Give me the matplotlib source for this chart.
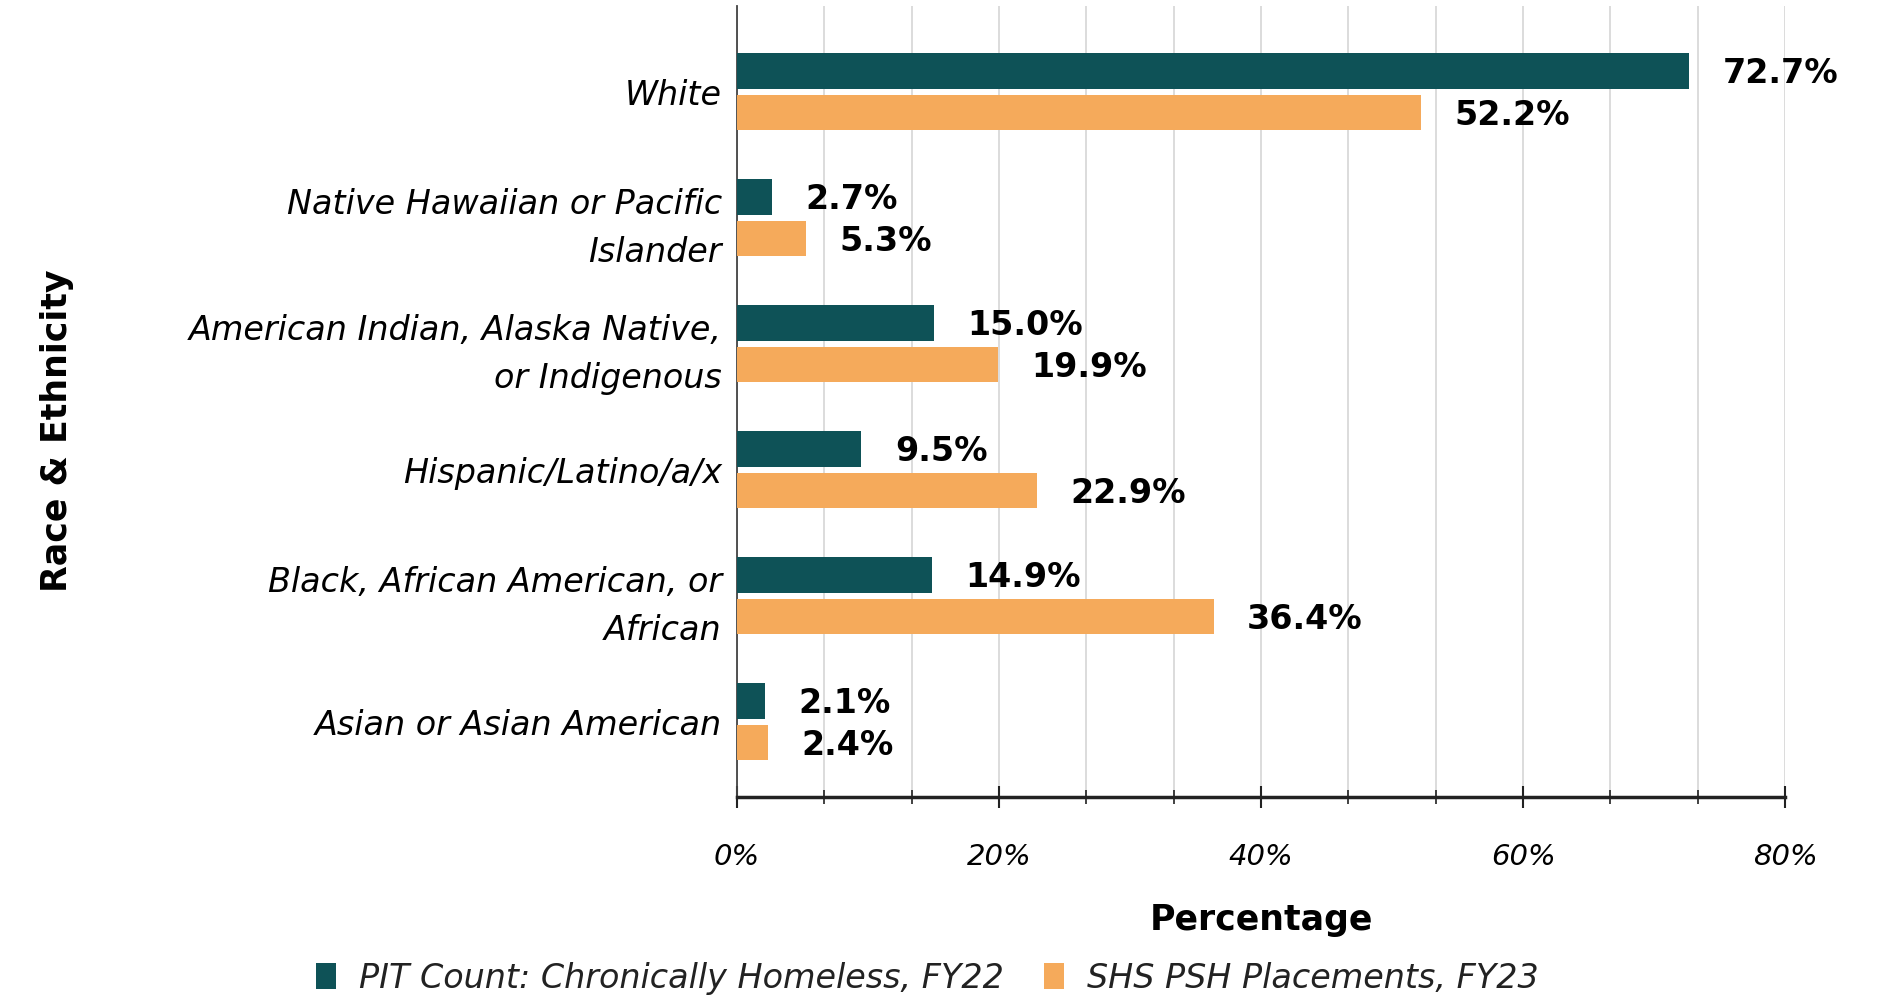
import numpy as np
import matplotlib.pyplot as plt
from matplotlib.ticker import MultipleLocator, FuncFormatter
from matplotlib.patches import Patch

# data
categories = ['White', 'Native Hawaiian or Pacific\nIslander',
              'American Indian, Alaska Native,\nor Indigenous',
              'Hispanic/Latino/a/x', 'Black, African American, or\nAfrican',
              'Asian or Asian American']
pit_fy22 = [72.7, 2.7, 15.0, 9.5, 14.9, 2.1]
psh_fy23 = [52.2, 5.3, 19.9, 22.9, 36.4, 2.4]
series_names = ['PIT Count: Chronically Homeless, FY22', 'SHS PSH Placements, FY23']

teal = '#0e5257'
orange = '#f5aa5b'

plt.rcParams['font.family'] = ['DejaVu Sans']

fig = plt.figure(figsize=(18.85, 9.98), dpi=100)
ax = fig.add_axes([0.391, 0.201, 0.556, 0.793])

y = np.arange(len(categories))
h = 0.28
gap = 0.05
off = h / 2 + gap / 2

b1 = ax.barh(y - off, pit_fy22, height=h, color=teal, zorder=3)
b2 = ax.barh(y + off, psh_fy23, height=h, color=orange, zorder=3)

for bars, vals in ((b1, pit_fy22), (b2, psh_fy23)):
    for bar, v in zip(bars, vals):
        ax.annotate('%.1f%%' % v, (v, bar.get_y() + bar.get_height() / 2),
                    xytext=(24, -2), textcoords='offset points',
                    ha='left', va='center', fontsize=24, fontweight='bold')

ax.set_xlim(0, 80)
ax.set_ylim(5.6, -0.68)
ax.set_yticks(y)
ax.set_yticklabels(categories, fontsize=24, style='italic', ha='right',
                   linespacing=1.55)
ax.tick_params(axis='y', length=0, pad=11)

ax.xaxis.set_major_locator(MultipleLocator(20))
ax.xaxis.set_minor_locator(MultipleLocator(20 / 3))
ax.xaxis.set_major_formatter(FuncFormatter(lambda v, p: '%d%%' % v))
ax.tick_params(axis='x', which='major', direction='inout', length=16, width=1.5,
               pad=25, labelsize=21, color='#222222')
ax.tick_params(axis='x', which='minor', direction='inout', length=10, width=1.2,
               color='#222222')
for lab in ax.get_xticklabels():
    lab.set_style('italic')

ax.grid(axis='x', which='both', color='#d9d9d9', linewidth=1.3, zorder=0)

for s in ('top', 'right'):
    ax.spines[s].set_visible(False)
ax.spines['bottom'].set_linewidth(2.5)
ax.spines['bottom'].set_color('#222222')
ax.spines['left'].set_linewidth(1.3)
ax.spines['left'].set_color('#444444')

ax.set_xlabel('Percentage', fontsize=25, fontweight='bold', labelpad=23)
fig.text(0.030, 0.568, 'Race & Ethnicity', rotation=90, fontsize=25,
         fontweight='bold', ha='center', va='center')

handles = [Patch(facecolor=teal, label=series_names[0]),
           Patch(facecolor=orange, label=series_names[1])]
leg = fig.legend(handles=handles, loc='center', bbox_to_anchor=(0.492, 0.020),
                 ncol=2, frameon=False, prop={'size': 24, 'style': 'italic'},
                 handlelength=0.6, handleheight=0.8, handletextpad=0.7,
                 columnspacing=1.2)
for t in leg.get_texts():
    t.set_color('#222222')

fig.savefig('out.png', dpi=100)
